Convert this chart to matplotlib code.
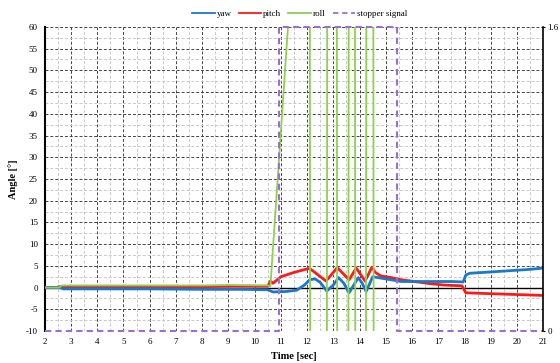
import numpy as np
import matplotlib.pyplot as plt
from matplotlib.ticker import MultipleLocator

plt.rcParams['font.family'] = ['Liberation Serif', 'DejaVu Serif']
plt.rcParams['axes.unicode_minus'] = False

# yaw [deg]
yaw_t = [2, 2.6, 2.7, 4, 6, 8, 9.5, 10.5, 10.7, 11.2, 11.6, 11.9, 12.1, 12.3, 12.5,
         12.75, 13.0, 13.2, 13.4, 13.6, 13.75, 13.95, 14.1, 14.25, 14.5, 14.8, 15.2,
         15.6, 16.5, 17.5, 17.95, 18.05, 18.2, 19, 20, 20.5, 21]
yaw = [0, 0, -0.3, -0.3, -0.3, -0.4, -0.4, -0.5, -1.0, -0.9, -0.6, 0.6, 1.8, 2.0, 1.2,
       -0.8, 0.6, 2.3, 1.0, -1.2, 0.3, 2.3, 1.0, -0.9, 2.5, 2.2, 1.8,
       1.4, 1.4, 1.4, 1.3, 2.9, 3.3, 3.6, 4.0, 4.2, 4.5]

# pitch [deg]
pitch_t = [2, 2.45, 2.55, 4, 6, 8, 9, 10.5, 10.6, 10.7, 11.0, 11.5, 12.0, 12.1,
           12.72, 13.15, 13.6, 13.87, 14.21, 14.47, 14.6, 14.8, 15.2, 15.6, 16.2,
           16.7, 17.2, 17.9, 18.05, 19, 20, 21]
pitch = [0, 0, 0.2, 0.2, 0.2, 0.2, 0.3, 0.3, 1.5, 1.0, 2.5, 3.5, 4.3, 4.4,
         1.5, 4.6, 1.8, 4.5, 1.5, 4.7, 3.5, 2.7, 2.3, 1.8, 1.3,
         0.9, 0.6, 0.4, -1.2, -1.4, -1.6, -1.8]

# roll [deg] (leaves the plotted range)
roll_t = [2, 2.55, 2.65, 4, 6, 8, 9, 10.5, 10.6, 11.27, 11.5, 12.10, 12.12, 12.75,
          12.77, 13.13, 13.15, 13.57, 13.59, 13.82, 13.84, 14.24, 14.26, 14.52,
          14.54, 21]
roll = [0, 0, 0.5, 0.5, 0.5, 0.5, 0.6, 0.5, 0.3, 60, 90, 90, -40, -40,
        90, 90, -40, -40, 90, 90, -40, -40, 90, 90,
        -40, -40]

# stopper signal (right axis)
stop_t = [2, 10.93, 10.93, 15.43, 15.43, 21]
stop = [0, 0, 1.6, 1.6, 0, 0]

fig = plt.figure(figsize=(5.6, 3.63), dpi=100)
ax = fig.add_axes([0.080, 0.088, 0.890, 0.838])

ax.set_xlim(2, 21)
ax.set_ylim(-10, 60)
ax.xaxis.set_major_locator(MultipleLocator(1))
ax.xaxis.set_minor_locator(MultipleLocator(0.5))
ax.yaxis.set_major_locator(MultipleLocator(5))
ax.yaxis.set_minor_locator(MultipleLocator(2.5))
ax.grid(which='major', color='#444444', linestyle=(0, (3, 2)), linewidth=0.7)
ax.grid(which='minor', color='#c8c8c8', linestyle=(0, (3, 2)), linewidth=0.7)
ax.tick_params(which='both', length=0, labelsize=6.5, pad=5)
ax.spines['top'].set_visible(False)
ax.spines['right'].set_visible(False)
ax.spines['left'].set_linewidth(1.5)
ax.spines['bottom'].set_visible(False)

ax.axhline(0, color='black', linewidth=1.0, zorder=2)

l1, = ax.plot(yaw_t, yaw, color='#1a78c8', linewidth=2.0, label='yaw', zorder=4)
l2, = ax.plot(pitch_t, pitch, color='#ff1a1a', linewidth=2.0, label='pitch', zorder=3)
l3, = ax.plot(roll_t, roll, color='#8fd050', linewidth=1.3, label='roll', zorder=5)

ax2 = ax.twinx()
ax2.set_ylim(0, 1.6)
ax2.set_yticks([0, 1.6])
ax2.set_yticklabels(['0', '1.6'])
ax2.tick_params(length=1.5, labelsize=6.5, pad=1.5)
l4, = ax2.plot(stop_t, stop, color='#9b6fd0', linewidth=1.5, linestyle=(0, (3, 2)),
               label='stopper signal', clip_on=False)
for s in ['top', 'left', 'bottom']:
    ax2.spines[s].set_visible(False)
ax2.spines['right'].set_linewidth(1.2)

ax.set_xlabel('Time [sec]', fontsize=7.5, fontweight='bold', labelpad=4)
ax.set_ylabel('Angle [°]', fontsize=7.5, fontweight='bold', labelpad=6)

leg = fig.legend(handles=[l1, l2, l3, l4], loc='center', bbox_to_anchor=(0.535, 0.962),
                 ncol=4, frameon=False, fontsize=6.5, handlelength=2.5,
                 columnspacing=0.8, handletextpad=0.2)
for h in leg.legend_handles:
    h.set_linewidth(1.3)

fig.savefig('out.png', dpi=100)
